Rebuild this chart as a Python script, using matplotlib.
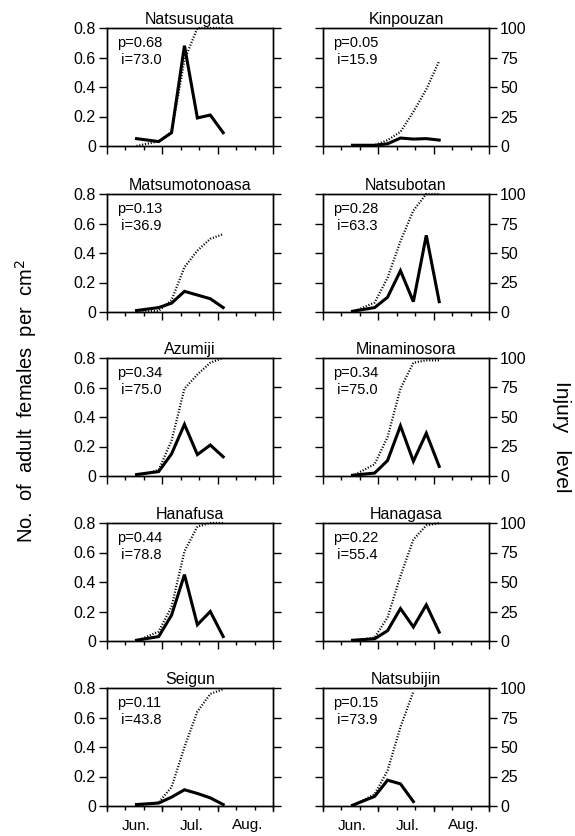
import matplotlib
matplotlib.use('Agg')
import matplotlib.pyplot as plt
from matplotlib.ticker import MultipleLocator

plt.rcParams['font.family'] = ['Liberation Sans', 'DejaVu Sans']

# ---------------------------------------------------------------
# data: days after 1 June, adult females per cm2 (solid),
# injury level 0-100 (dotted)
# ---------------------------------------------------------------
varieties = ['Natsusugata', 'Kinpouzan', 'Matsumotonoasa', 'Natsubotan',
             'Azumiji', 'Minaminosora', 'Hanafusa', 'Hanagasa',
             'Seigun', 'Natsubijin']
p_values = ['0.68', '0.05', '0.13', '0.28', '0.34', '0.34', '0.44', '0.22', '0.11', '0.15']
i_values = ['73.0', '15.9', '36.9', '63.3', '75.0', '75.0', '78.8', '55.4', '43.8', '73.9']

days = [16, 28, 35, 42, 49, 56, 63]

females = [
    [0.05, 0.03, 0.09, 0.68, 0.19, 0.21, 0.09],
    [0.005, 0.005, 0.015, 0.054, 0.047, 0.05, 0.04],
    [0.01, 0.03, 0.06, 0.14, 0.115, 0.09, 0.03],
    [0.005, 0.03, 0.10, 0.28, 0.07, 0.52, 0.07],
    [0.01, 0.03, 0.15, 0.35, 0.145, 0.21, 0.13],
    [0.005, 0.02, 0.105, 0.34, 0.10, 0.29, 0.065],
    [0.005, 0.03, 0.175, 0.45, 0.11, 0.20, 0.03],
    [0.005, 0.015, 0.07, 0.22, 0.095, 0.245, 0.06],
    [0.01, 0.02, 0.06, 0.11, 0.085, 0.055, 0.01],
    [0.005, 0.065, 0.175, 0.15, 0.03, None, None],
]

injury = [
    [0, 4, 12, 73, 100, 100, 100],
    [None, 0, 5, 12, 29, 48, 72],
    [0, 1, 10, 38, 52, 62, 66],
    [0, 8, 29, 60, 86, 100, 100],
    [0, 5, 30, 74, 86, 96, 100],
    [0, 10, 33, 74, 96, 98, 98],
    [0, 8, 29, 76, 97, 100, 100],
    [0, 3, 20, 55, 86, 98, 100],
    [0, 3, 16, 50, 80, 95, 99],
    [0, 10, 30, 67, 97, None, None],
]

month_labels = ['Jun.', 'Jul.', 'Aug.']

# ---------------------------------------------------------------
fig = plt.figure(figsize=(5.75, 8.36), dpi=100)

col_left = [107 / 575, 323 / 575]
ax_w = 166 / 575
ax_h = 118 / 836
row_bottom = [1 - 146 / 836, 1 - 312 / 836, 1 - 476 / 836, 1 - 641 / 836, 1 - 806 / 836]


def clean(xs, ys):
    pts = [(x, y) for x, y in zip(xs, ys) if y is not None]
    return [p[0] for p in pts], [p[1] for p in pts]


for k, name in enumerate(varieties):
    row, col = divmod(k, 2)
    ax = fig.add_axes([col_left[col], row_bottom[row], ax_w, ax_h])
    ax2 = ax.twinx()

    x, y = clean(days, females[k])
    ax.plot(x, y, color='black', lw=2.2, solid_joinstyle='miter')
    x, y = clean(days, injury[k])
    if name == 'Kinpouzan':
        x = [27] + x[1:]
    ax2.plot(x, y, color='black', lw=1.6, linestyle=(0, (0.5, 0.8)), clip_on=False)

    ax.set_xlim(0, 90)
    ax.set_ylim(0, 0.8)
    ax2.set_ylim(0, 100)
    ax.set_yticks([0, 0.2, 0.4, 0.6, 0.8])
    ax2.set_yticks([0, 25, 50, 75, 100])

    ax.xaxis.set_major_locator(MultipleLocator(30))
    ax.xaxis.set_minor_locator(MultipleLocator(10))
    ax.tick_params(axis='x', which='major', direction='out', length=6, width=1)
    ax.tick_params(axis='x', which='minor', direction='out', length=3, width=1)
    ax.tick_params(axis='y', direction='out', length=6, width=1, labelsize=11.5, pad=2)
    ax2.tick_params(axis='y', direction='out', length=6, width=1, labelsize=11.5, pad=2)

    if col == 0:
        ax.set_yticklabels(['0', '0.2', '0.4', '0.6', '0.8'])
        ax2.set_yticklabels([])
    else:
        ax.set_yticklabels([])
        ax2.set_yticklabels(['0', '25', '50', '75', '100'])

    if row == 4:
        ax.set_xticks([16, 46, 76], minor=False)
        ax.set_xticklabels(month_labels, fontsize=11)
        ax.tick_params(axis='x', which='major', length=0, pad=9)
        ax.set_xticks([0, 10, 20, 30, 40, 50, 60, 70, 80, 90], minor=True)
        ax.tick_params(axis='x', which='minor', length=3)
        for xm in (0, 30, 60, 90):
            ax.plot([xm, xm], [0, -0.035], color='black', lw=1, clip_on=False)
    else:
        ax.set_xticklabels([])

    for a in (ax, ax2):
        for s in a.spines.values():
            s.set_linewidth(1)
    ax.set_title(name, fontsize=11.5, pad=3)
    ax.text(0.06, 0.93, 'p=' + p_values[k] + '\n i=' + i_values[k],
            transform=ax.transAxes, ha='left', va='top', fontsize=10.5,
            linespacing=1.25)

fig.text(0.045, 0.52, 'No.  of  adult  females  per  cm$^2$', rotation=90,
         ha='center', va='center', fontsize=14.5)
fig.text(0.977, 0.478, 'Injury   level', rotation=-90,
         ha='center', va='center', fontsize=15)

fig.savefig('out.png', dpi=100)
